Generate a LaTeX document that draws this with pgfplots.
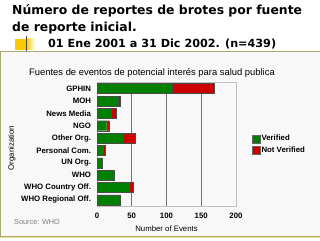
\documentclass[border=0pt]{standalone}
\usepackage{pgfplots}
\pgfplotsset{compat=1.18}
\usepackage{fontspec}
\setmainfont{Liberation Sans}
\newfontfamily\titlefont{DejaVu Sans}
\definecolor{barg}{RGB}{0,128,0}
\definecolor{barr}{RGB}{204,0,0}
\definecolor{panelbg}{RGB}{248,248,248}
\definecolor{olive}{RGB}{168,168,112}
\definecolor{paleyel}{RGB}{236,228,150}
\definecolor{gold}{RGB}{250,200,0}
\definecolor{frame}{RGB}{192,192,192}
\begin{document}
\begin{tikzpicture}[x=1pt,y=1pt]
\useasboundingbox (0,0) rectangle (320,-240);
\fill[white] (0,0) rectangle (320,-240);
% panel
\fill[panelbg] (0,-52) rectangle (321,-236.5);
\draw[olive,line width=1pt] (0.5,-236.5) -- (0.5,-52) -- (321,-52);
\draw[olive,line width=1pt] (0,-236.5) -- (321,-236.5);
\draw[paleyel,line width=1pt] (0,-237.8) -- (321,-237.8);
% gold bullet
\fill[gold] (15,-39) rectangle (26,-50);
\shade[left color=gold,right color=white] (26,-39) rectangle (35,-50);
\draw[black!70,line width=0.8pt] (26.7,-36) -- (26.7,-51);
% titles
\node[anchor=base west,inner sep=0,font=\titlefont\bfseries\fontsize{12.4}{14}\selectfont] at (12,-15) {Número de reportes de brotes por fuente};
\node[anchor=base west,inner sep=0,font=\titlefont\bfseries\fontsize{12.4}{14}\selectfont] at (12,-31.5) {de reporte inicial.};
\node[anchor=base west,inner sep=0,font=\titlefont\bfseries\fontsize{11.2}{13}\selectfont] at (48,-47.5) {01 Ene 2001 a 31 Dic 2002. (n=439)};
\node[anchor=base,inner sep=0,font=\fontsize{9.4}{11}\selectfont] at (152,-76) {Fuentes de eventos de potencial interés para salud publica};
\node[anchor=base west,inner sep=0,font=\fontsize{7.3}{8}\selectfont,text=black!50] at (14,-224) {Source: WHO};
\begin{axis}[
  at={(97pt,-206pt)}, anchor=south west,
  scale only axis, width=139pt, height=123.5pt,
  xbar stacked, bar width=10pt,
  xmin=0, xmax=200, ymin=-0.5, ymax=9.5, y dir=reverse,
  ytick={0,...,9},
  yticklabels={GPHIN,MOH,News Media,NGO,Other Org.,Personal Com.,UN Org.,WHO,WHO Country Off.,WHO Regional Off.},
  xtick={0,50,100,150,200},
  /pgf/number format/assume math mode=true,
  xmajorgrids, major grid style={draw=black!55,line width=0.6pt},
  axis line style={draw=frame,line width=1pt},
  tick style={draw=none},
  ticklabel style={font=\fontsize{7.8}{9}\selectfont\bfseries},
  xticklabel style={anchor=center,yshift=-10pt},
  yticklabel style={anchor=east,xshift=-2.5pt},
  xlabel={Number of Events},
  xlabel style={at={(axis description cs:0.5,0)},anchor=center,yshift=-23pt,font=\fontsize{7.8}{9}\selectfont},
  ylabel={Organization},
  ylabel style={at={(axis description cs:-0.612,0.47)},anchor=center,font=\fontsize{7.8}{9}\selectfont},
  legend style={at={(axis description cs:1.115,0.583)},anchor=north west,draw=none,fill=none,inner sep=0pt,
    font=\fontsize{7.8}{9}\selectfont\bfseries,row sep=2.6pt,
    nodes={inner sep=1pt}},
  legend cell align=left,
  legend image code/.code={\draw[#1,draw=black!60] (0pt,-4pt) rectangle (8pt,4pt);},
  every axis plot/.append style={draw=black!70,line width=0.4pt},
]
\addplot[fill=barg] coordinates {(108,0) (31,1) (21,2) (14,3) (38,4) (9,5) (7,6) (23,7) (46,8) (34,9)};
\addplot[fill=barr] coordinates {(61,0) (3,1) (6,2) (3,3) (17,4) (3,5) (0,6) (2,7) (6,8) (0,9)};
\legend{Verified,Not Verified}
\end{axis}
\end{tikzpicture}
\end{document}
